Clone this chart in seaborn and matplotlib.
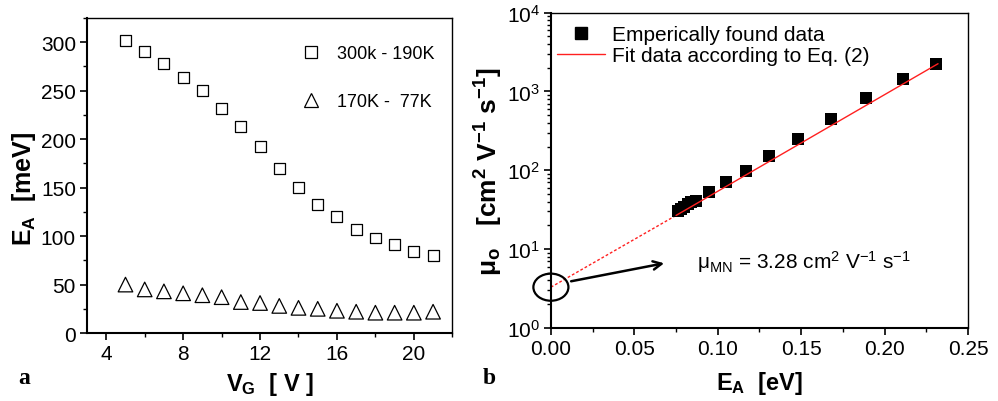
import numpy as np
import pandas as pd
import matplotlib
matplotlib.use("Agg")
import matplotlib.pyplot as plt
import seaborn as sns
from matplotlib.patches import Ellipse
from matplotlib.lines import Line2D
from matplotlib.ticker import MultipleLocator, LogLocator, NullFormatter

# ---- data: panel a ----
vg = [5, 6, 7, 8, 9, 10, 11, 12, 13, 14, 15, 16, 17, 18, 19, 20, 21]
ea_high = [302, 290, 278, 264, 250, 232, 213, 192, 170, 150, 133, 120, 107, 98, 91, 84, 80]
ea_low = [50, 45, 43, 41, 39, 37, 32, 31, 28, 26, 25, 23, 22, 21, 21, 21, 22]
labels_a = ["300k - 190K", "170K -  77K"]

# ---- data: panel b ----
ea_ev = [0.076, 0.078, 0.080, 0.082, 0.084, 0.087, 0.095, 0.105, 0.117,
         0.131, 0.148, 0.168, 0.189, 0.211, 0.231]
mu0 = [30, 32, 34, 37, 39, 41, 53, 70, 98, 151, 252, 452, 828, 1455, 2213]
fit_solid_E = [0.075, 0.232]
fit_solid_mu = [26.7, 2250]
fit_dot_E = [0.0, 0.075]
fit_dot_mu = [3.28, 26.7]
mu_mn = 3.28
labels_b = ["Emperically found data", "Fit data according to Eq. (2)"]

sns.set_style("ticks")
plt.rcParams['font.family'] = ['Liberation Sans', 'DejaVu Sans']
plt.rcParams['mathtext.fontset'] = 'custom'
plt.rcParams['mathtext.rm'] = 'Liberation Sans'
plt.rcParams['mathtext.it'] = 'Liberation Sans'
plt.rcParams['mathtext.bf'] = 'Liberation Sans:bold'
plt.rcParams['mathtext.default'] = 'regular'
for k in ['text.color', 'axes.labelcolor', 'xtick.color', 'ytick.color', 'axes.edgecolor']:
    plt.rcParams[k] = 'black'

fig = plt.figure(figsize=(9.98, 4.02), dpi=100)
ax1 = fig.add_axes([0.0872, 0.169, 0.366, 0.784])
ax2 = fig.add_axes([0.552, 0.182, 0.418, 0.784])

# ---- panel a ----
sns.scatterplot(x=vg, y=ea_high, marker="s", s=62, facecolor="none",
                edgecolor="black", linewidth=0.9, ax=ax1)
sns.scatterplot(x=vg, y=ea_low, marker="^", s=110, facecolor="none",
                edgecolor="black", linewidth=0.9, ax=ax1)
for coll in ax1.collections:
    coll.set_facecolor("none")
    coll.set_edgecolor("black")
h1 = Line2D([], [], marker="s", ls="none", mfc="none", mec="black", ms=8, mew=0.9)
h2 = Line2D([], [], marker="^", ls="none", mfc="none", mec="black", ms=10, mew=0.9)
ax1.legend([h1, h2], labels_a, loc="upper right", frameon=False, fontsize=13,
           labelspacing=1.7, handletextpad=0.6, handlelength=1.6,
           bbox_to_anchor=(0.995, 0.965))

ax1.set_xlim(3, 22)
ax1.set_ylim(0, 325)
ax1.set_xticks([4, 8, 12, 16, 20])
ax1.set_yticks([0, 50, 100, 150, 200, 250, 300])
ax1.xaxis.set_minor_locator(MultipleLocator(2))
ax1.yaxis.set_minor_locator(MultipleLocator(25))
ax1.tick_params(axis="both", which="major", labelsize=15, length=5, width=1.2, direction="out", pad=3)
ax1.tick_params(axis="both", which="minor", length=3, width=1.0, direction="out")
ax1.set_xlabel(r"$\mathbf{V_G}$  [ V ]", fontsize=17, fontweight="bold", labelpad=5)
ax1.set_ylabel(r"$\mathbf{E_A}$  [meV]", fontsize=18, fontweight="bold")
ax1.yaxis.set_label_coords(-0.135, 0.46)
for side in ["left", "bottom"]:
    ax1.spines[side].set_linewidth(1.5)
for side in ["top", "right"]:
    ax1.spines[side].set_linewidth(1.0)

# ---- panel b ----
df_b = pd.DataFrame({"EA": ea_ev, "mu": mu0})
sns.lineplot(x=fit_dot_E, y=fit_dot_mu, color="#ff2020", lw=1.0, ax=ax2,
             linestyle=(0, (2, 1.5)))
sns.scatterplot(data=df_b, x="EA", y="mu", marker="s", color="black",
                s=78, edgecolor="black", linewidth=0, ax=ax2, zorder=3)
sns.lineplot(x=fit_solid_E, y=fit_solid_mu, color="#ff2020", lw=1.0, ax=ax2,
             zorder=4)
ax2.set_yscale("log")
ax2.set_xlim(0, 0.25)
ax2.set_ylim(1, 1e4)
ax2.set_xticks([0.0, 0.05, 0.10, 0.15, 0.20, 0.25])
ax2.set_xticklabels(["0.00", "0.05", "0.10", "0.15", "0.20", "0.25"])
ax2.xaxis.set_minor_locator(MultipleLocator(0.025))
ax2.yaxis.set_major_locator(LogLocator(base=10, numticks=10))
ax2.yaxis.set_minor_locator(LogLocator(base=10, subs=np.arange(2, 10), numticks=20))
ax2.yaxis.set_minor_formatter(NullFormatter())
ax2.tick_params(axis="both", which="major", labelsize=15, length=5, width=1.2, direction="out", pad=3)
ax2.tick_params(axis="both", which="minor", length=3, width=1.0, direction="out")
ax2.set_xlabel(r"$\mathbf{E_A}$  [eV]", fontsize=17, fontweight="bold", labelpad=8)
ax2.set_ylabel(r"$\mathbf{\mu_o}$   [cm$\mathbf{^2}$ V$\mathbf{^{-1}}$ s$\mathbf{^{-1}}$]",
               fontsize=19, fontweight="bold", labelpad=1)
for side in ["left", "bottom"]:
    ax2.spines[side].set_linewidth(1.5)
for side in ["top", "right"]:
    ax2.spines[side].set_linewidth(1.0)

hb1 = Line2D([], [], marker="s", ls="none", mfc="black", mec="black", ms=9)
hb2 = Line2D([], [], color="#ff2020", lw=1.0)
ax2.legend([hb1, hb2], labels_b, loc="upper left", frameon=False, fontsize=15,
           labelspacing=0.1, handlelength=2.3, handletextpad=0.35,
           bbox_to_anchor=(-0.016, 1.0), borderaxespad=0.2)

# ellipse and arrow + annotation
ell = Ellipse((0.0, np.log10(mu_mn) / 4), width=0.084, height=0.086,
              transform=ax2.transAxes, fill=False, edgecolor="black", lw=1.6,
              clip_on=False, zorder=5)
ax2.add_patch(ell)
ax2.annotate("", xy=(0.0695, 6.7), xytext=(0.0105, 3.84),
             arrowprops=dict(arrowstyle="->,head_length=0.6,head_width=0.3",
                             lw=1.8, color="black"))
ax2.text(0.0875, 7.1, r"$\mu_{MN}$ = 3.28 cm$^2$ V$^{-1}$ s$^{-1}$",
         fontsize=15, va="center", ha="left")

# panel letters
fig.text(0.018, 0.045, "a", fontsize=17, fontweight="bold",
         family=["Liberation Serif", "DejaVu Serif"])
fig.text(0.484, 0.045, "b", fontsize=17, fontweight="bold",
         family=["Liberation Serif", "DejaVu Serif"])

fig.savefig("out.png", dpi=100)
